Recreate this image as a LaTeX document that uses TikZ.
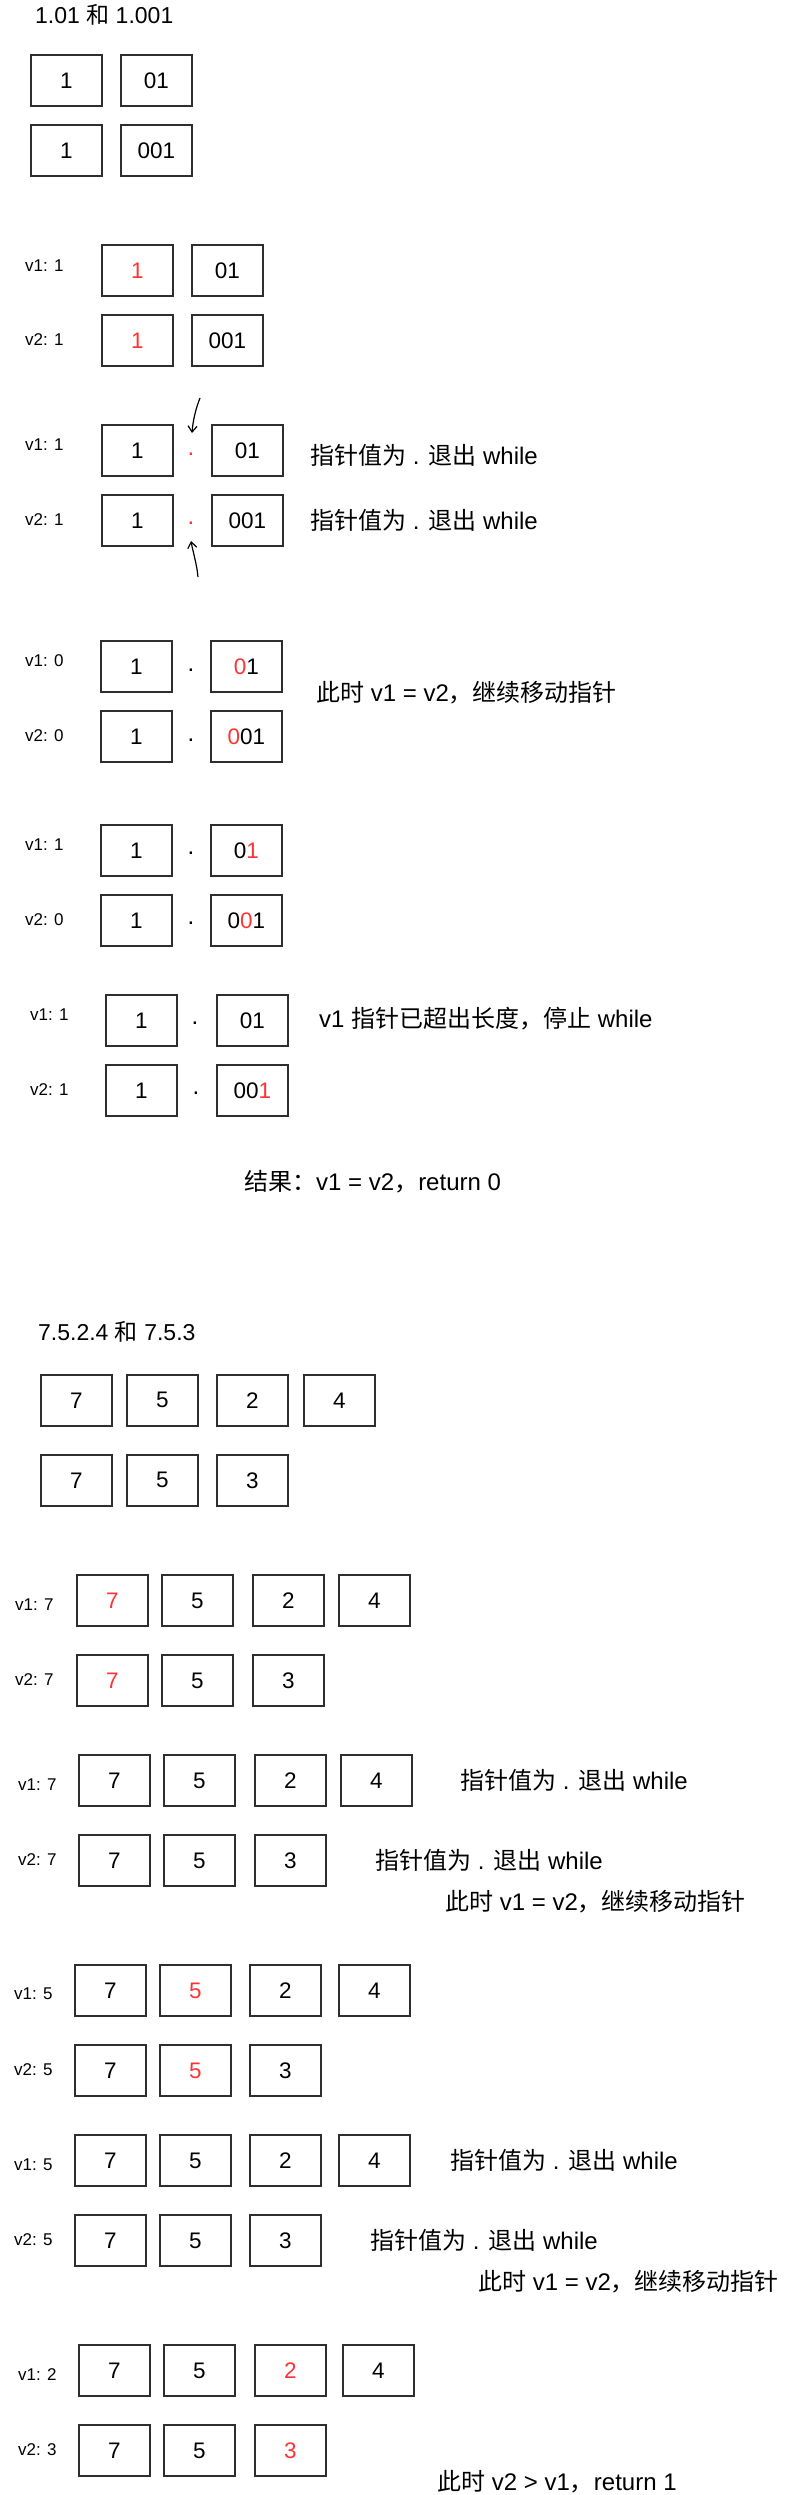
\documentclass[tikz,border=0pt]{standalone}
\usepackage{fontspec}
\setmainfont{Liberation Sans}
\newfontfamily\cjk{Noto Sans CJK SC}
\usetikzlibrary{arrows.meta}
\definecolor{hl}{HTML}{FF3333}
\definecolor{bd}{HTML}{2E2E2E}
\newcommand\zh[1]{{\cjk #1}}
\newcommand\rd[1]{\textcolor{hl}{#1}}
\tikzset{
  bx/.style={draw=bd, line width=1.7pt, minimum width=71pt, minimum height=51pt, inner sep=0pt, anchor=north west, font=\fontsize{22.5}{26}\selectfont},
  txt/.style={inner sep=0pt, anchor=west, font=\fontsize{24}{28}\selectfont},
  ttl/.style={inner sep=0pt, anchor=west, font=\fontsize{23}{27}\selectfont},
  lbl/.style={inner sep=0pt, anchor=west, font=\fontsize{17}{20}\selectfont},
  dotn/.style={inner sep=0pt, font=\fontsize{24}{28}\selectfont},
  ptr/.style={line width=1.2pt, -{Straight Barb[length=6pt,width=9pt]}}
}
\begin{document}
\begin{tikzpicture}[x=1pt,y=-1pt]
\useasboundingbox (0,0) rectangle (791,2495);
% ---------- Section 1 ----------
\node[ttl] (t1) at (35,15) {1.01 \zh{和} 1.001};
\node[bx] (a11) at (30,54) {1};
\node[bx] (a12) at (120,54) {01};
\node[bx] (a21) at (30,124) {1};
\node[bx] (a22) at (120,124) {001};
% group 2
\node[lbl] (l21) at (25,266) {v1: 1};
\node[bx] (b11) at (101,244) {\rd{1}};
\node[bx] (b12) at (191,244) {01};
\node[lbl] (l22) at (25,340) {v2: 1};
\node[bx] (b21) at (101,314) {\rd{1}};
\node[bx] (b22) at (191,314) {001};
% group 3
\node[lbl] (l31) at (25,445) {v1: 1};
\node[bx] (c11) at (101,424) {1};
\node[dotn,text=hl] (cd1) at (191,454) {.};
\node[bx] (c12) at (211,424) {01};
\node[txt] (ct1) at (310,455) {\zh{指针值为} . \zh{退出} while};
\node[lbl] (l32) at (25,520) {v2: 1};
\node[bx] (c21) at (101,494) {1};
\node[dotn,text=hl] (cd2) at (191,523) {.};
\node[bx] (c22) at (211,494) {001};
\node[txt] (ct2) at (310,520) {\zh{指针值为} . \zh{退出} while};
\coordinate (p1s) at (200,398);
\coordinate (p1e) at (192,433);
\draw[ptr] (p1s) .. controls (196,408) and (193,420) .. (p1e);
\coordinate (p2s) at (198,577);
\coordinate (p2e) at (191,541);
\draw[ptr] (p2s) .. controls (197,565) and (193,552) .. (p2e);
% group 4
\node[lbl] (l41) at (25,661) {v1: 0};
\node[bx] (d11) at (100,640) {1};
\node[dotn] (dd1) at (191,670) {.};
\node[bx] (d12) at (210,640) {\rd{0}1};
\node[lbl] (l42) at (25,736) {v2: 0};
\node[bx] (d21) at (100,710) {1};
\node[dotn] (dd2) at (191,740) {.};
\node[bx] (d22) at (210,710) {\rd{0}01};
\node[txt] (dt) at (316,693) {\zh{此时} v1 = v2\zh{，继续移动指针}};
% group 5
\node[lbl] (l51) at (25,845) {v1: 1};
\node[bx] (e11) at (100,824) {1};
\node[dotn] (ed1) at (191,853) {.};
\node[bx] (e12) at (210,824) {0\rd{1}};
\node[lbl] (l52) at (25,920) {v2: 0};
\node[bx] (e21) at (100,894) {1};
\node[dotn] (ed2) at (191,923) {.};
\node[bx] (e22) at (210,894) {0\rd{0}1};
% group 6
\node[lbl] (l61) at (30,1015) {v1: 1};
\node[bx] (f11) at (105,994) {1};
\node[dotn] (fd1) at (195,1023) {.};
\node[bx] (f12) at (216,994) {01};
\node[txt] (ft) at (319,1019) {v1 \zh{指针已超出长度，停止} while};
\node[lbl] (l62) at (30,1090) {v2: 1};
\node[bx] (f21) at (105,1064) {1};
\node[dotn] (fd2) at (196,1093) {.};
\node[bx] (f22) at (216,1064) {00\rd{1}};
\node[txt] (res) at (244,1182) {\zh{结果：}v1 = v2\zh{，}return 0};
% ---------- Section 2 ----------
\node[ttl] (t2) at (38,1332) {7.5.2.4 \zh{和} 7.5.3};
\node[bx] (g11) at (40,1374) {7};
\node[bx] (g12) at (126,1374) {5};
\node[bx] (g13) at (216,1374) {2};
\node[bx] (g14) at (303,1374) {4};
\node[bx] (g21) at (40,1454) {7};
\node[bx] (g22) at (126,1454) {5};
\node[bx] (g23) at (216,1454) {3};
% group A
\node[lbl] (la1) at (15,1605) {v1: 7};
\node[bx] (h11) at (76,1574) {\rd{7}};
\node[bx] (h12) at (161,1574) {5};
\node[bx] (h13) at (252,1574) {2};
\node[bx] (h14) at (338,1574) {4};
\node[lbl] (la2) at (15,1680) {v2: 7};
\node[bx] (h21) at (76,1654) {\rd{7}};
\node[bx] (h22) at (161,1654) {5};
\node[bx] (h23) at (252,1654) {3};
% group B
\node[lbl] (lb1) at (18,1785) {v1: 7};
\node[bx] (i11) at (78,1754) {7};
\node[bx] (i12) at (163,1754) {5};
\node[bx] (i13) at (254,1754) {2};
\node[bx] (i14) at (340,1754) {4};
\node[txt] (it1) at (460,1780) {\zh{指针值为} . \zh{退出} while};
\node[lbl] (lb2) at (18,1860) {v2: 7};
\node[bx] (i21) at (78,1834) {7};
\node[bx] (i22) at (163,1834) {5};
\node[bx] (i23) at (254,1834) {3};
\node[txt] (it2) at (375,1860) {\zh{指针值为} . \zh{退出} while};
\node[txt] (it3) at (445,1902) {\zh{此时} v1 = v2\zh{，继续移动指针}};
% group C
\node[lbl] (lc1) at (14,1994) {v1: 5};
\node[bx] (j11) at (74,1964) {7};
\node[bx] (j12) at (159,1964) {\rd{5}};
\node[bx] (j13) at (249,1964) {2};
\node[bx] (j14) at (338,1964) {4};
\node[lbl] (lc2) at (14,2070) {v2: 5};
\node[bx] (j21) at (74,2044) {7};
\node[bx] (j22) at (159,2044) {\rd{5}};
\node[bx] (j23) at (249,2044) {3};
% group D
\node[lbl] (ld1) at (14,2165) {v1: 5};
\node[bx] (k11) at (74,2134) {7};
\node[bx] (k12) at (159,2134) {5};
\node[bx] (k13) at (249,2134) {2};
\node[bx] (k14) at (338,2134) {4};
\node[txt] (kt1) at (450,2160) {\zh{指针值为} . \zh{退出} while};
\node[lbl] (ld2) at (14,2240) {v2: 5};
\node[bx] (k21) at (74,2214) {7};
\node[bx] (k22) at (159,2214) {5};
\node[bx] (k23) at (249,2214) {3};
\node[txt] (kt2) at (370,2240) {\zh{指针值为} . \zh{退出} while};
\node[txt] (kt3) at (478,2282) {\zh{此时} v1 = v2\zh{，继续移动指针}};
% group E
\node[lbl] (le1) at (18,2375) {v1: 2};
\node[bx] (m11) at (78,2344) {7};
\node[bx] (m12) at (163,2344) {5};
\node[bx] (m13) at (254,2344) {\rd{2}};
\node[bx] (m14) at (342,2344) {4};
\node[lbl] (le2) at (18,2450) {v2: 3};
\node[bx] (m21) at (78,2424) {7};
\node[bx] (m22) at (163,2424) {5};
\node[bx] (m23) at (254,2424) {\rd{3}};
\node[txt] (mt) at (437,2482) {\zh{此时} v2 > v1\zh{，}return 1};
\end{tikzpicture}
\end{document}
